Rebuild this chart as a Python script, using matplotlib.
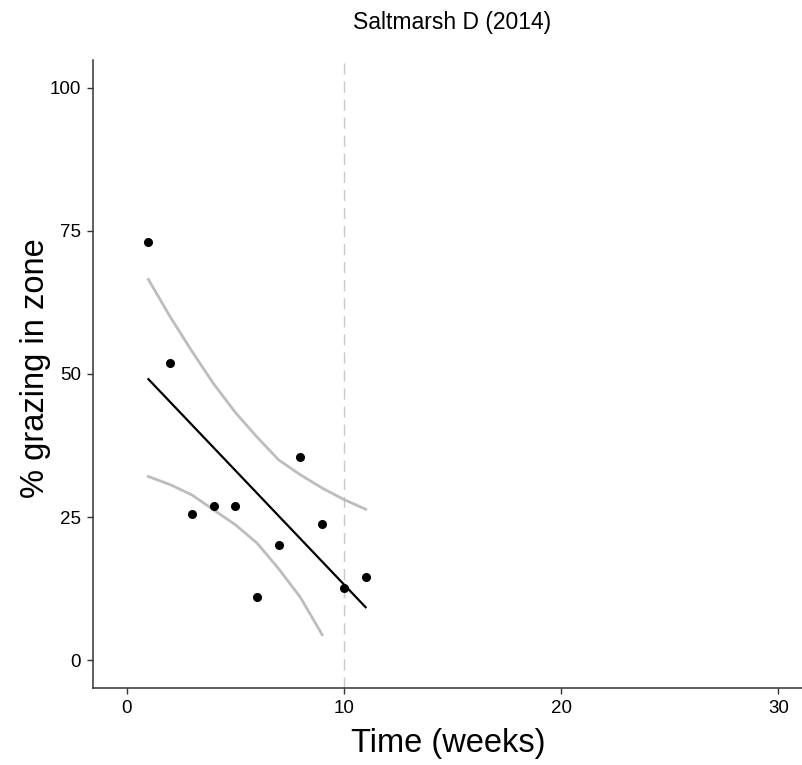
import numpy as np
import matplotlib.pyplot as plt

plt.rcParams['font.family'] = ['Liberation Sans', 'DejaVu Sans']

# observed % grazing per week
weeks = [1, 2, 3, 4, 5, 6, 7, 8, 9, 10, 11]
grazing = [73.1, 52.0, 25.5, 26.9, 27.0, 11.0, 20.1, 35.5, 23.9, 12.6, 14.6]

# fitted line (endpoints)
fit_x = [1, 11]
fit_y = [49.1, 9.3]

# confidence band edges
upper_x = [1, 2, 3, 4, 5, 6, 7, 8, 9, 10, 11]
upper_y = [66.5, 60.0, 54.0, 48.3, 43.3, 39.0, 35.0, 32.4, 30.1, 28.1, 26.4]
lower_x = [1, 2, 3, 4, 5, 6, 7, 8, 9]
lower_y = [32.1, 30.7, 28.9, 26.3, 23.7, 20.5, 16.0, 11.0, 4.5]

cutoff_week = 10
xticks = [0, 10, 20, 30]
yticks = [0, 25, 50, 75, 100]

W, H = 803, 765
fig = plt.figure(figsize=(W / 100, H / 100), dpi=100)
left, right, bottom, top = 93, 812, 688, 60
ax = fig.add_axes([left / W, 1 - bottom / H, (right - left) / W, (bottom - top) / H])

ax.axvline(cutoff_week, color='#c8c8c8', lw=1, linestyle=(0, (8, 5)), zorder=1)
ax.plot(upper_x, upper_y, color='#bdbdbd', lw=2, zorder=2)
ax.plot(lower_x, lower_y, color='#bdbdbd', lw=2, zorder=2)
ax.plot(fit_x, fit_y, color='black', lw=1.6, zorder=3)
ax.plot(weeks, grazing, 'o', color='black', markersize=5.5, zorder=4)

ax.set_xlim(-1.55, 31.55)
ax.set_ylim(-4.8, 104.8)
ax.set_xticks(xticks)
ax.set_yticks(yticks)

for s in ['top', 'right']:
    ax.spines[s].set_visible(False)
for s in ['left', 'bottom']:
    ax.spines[s].set_color('#333333')
    ax.spines[s].set_linewidth(1.1)
ax.tick_params(length=4.5, width=1, color='#333333', labelsize=13.5, pad=4,
               labelcolor='black')

ax.set_xlabel('Time (weeks)', fontsize=23.5)
ax.set_ylabel('% grazing in zone', fontsize=23.5)
ax.xaxis.set_label_coords(0.494, -0.064)
ax.yaxis.set_label_coords(-0.058, 0.51)

fig.text(452 / W, 1 - 22 / H, 'Saltmarsh D (2014)', ha='center', va='center',
         fontsize=16.5)

fig.savefig('out.png', dpi=100)
